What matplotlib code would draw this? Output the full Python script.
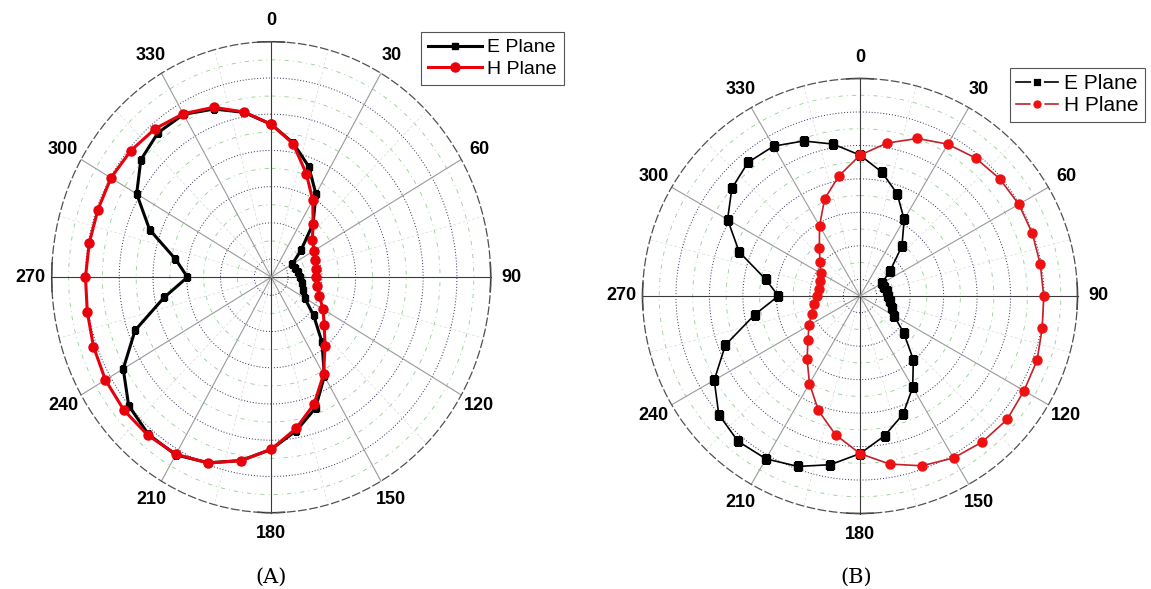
import numpy as np
import matplotlib.pyplot as plt
from matplotlib.lines import Line2D

plt.rcParams['font.family'] = ['Liberation Sans', 'DejaVu Sans']

W, H = 1151, 589

# measured every 10 degrees, radius in grid units (outer circle = 6.5)
angles = np.arange(0, 360, 10)

a_e_plane = [4.22, 3.76, 3.25, 2.65, 1.93, 1.15, 0.72, 0.76, 0.81, 0.86, 0.93, 1.01,
             1.14, 1.64, 2.34, 3.15, 3.84, 4.30, 4.75, 5.14, 5.45, 5.66, 5.66, 5.51,
             5.06, 4.29, 3.22, 2.48, 2.88, 3.83, 4.60, 5.04, 5.21, 5.19, 4.94, 4.62]
a_h_plane = [4.22, 3.74, 3.04, 2.46, 1.93, 1.59, 1.47, 1.39, 1.35, 1.34, 1.39, 1.52,
             1.77, 2.05, 2.48, 3.10, 3.72, 4.24, 4.75, 5.14, 5.46, 5.64, 5.69, 5.70,
             5.67, 5.60, 5.53, 5.50, 5.47, 5.46, 5.48, 5.43, 5.35, 5.21, 4.99, 4.63]

b_e_plane = [4.21, 3.76, 3.25, 2.64, 1.95, 1.18, 0.75, 0.77, 0.81, 0.85, 0.92, 1.01,
             1.17, 1.70, 2.48, 3.15, 3.76, 4.24, 4.71, 5.12, 5.42, 5.62, 5.67, 5.51,
             5.03, 4.28, 3.19, 2.44, 2.86, 3.84, 4.57, 5.00, 5.21, 5.17, 4.93, 4.61]
b_h_plane = [4.21, 4.64, 5.01, 5.24, 5.38, 5.45, 5.48, 5.48, 5.47, 5.49, 5.53, 5.63,
             5.66, 5.74, 5.69, 5.59, 5.40, 5.10, 4.71, 4.21, 3.64, 3.02, 2.46, 2.03,
             1.76, 1.54, 1.40, 1.30, 1.25, 1.27, 1.36, 1.56, 1.89, 2.42, 3.09, 3.64]

tick_angles = np.arange(0, 360, 30)
tick_labels = [str(a) for a in tick_angles]
major_rings = np.arange(0.5, 6.0, 1.0)
minor_rings = np.arange(1.0, 6.5, 1.0)
r_max = 6.5

fig = plt.figure(figsize=(W / 100, H / 100), dpi=100)


def closed(vals):
    th = np.deg2rad(np.append(angles, 360))
    return th, np.append(vals, vals[0])


def make_polar(left, top, width, height):
    ax = fig.add_axes([left / W, 1 - (top + height) / H, width / W, height / H],
                      projection='polar')
    ax.set_aspect('auto')
    ax.set_theta_zero_location('N')
    ax.set_theta_direction(-1)
    ax.set_ylim(0, r_max)
    ax.grid(False)

    full = np.linspace(0, 2 * np.pi, 721)
    for r in minor_rings:
        ax.plot(full, np.full_like(full, r), color='#93cc93', lw=0.6,
                ls=(0, (5, 5, 1, 5)), zorder=1)
    for r in major_rings:
        ax.plot(full, np.full_like(full, r), color='#2c2c58', lw=0.7,
                ls=(0, (1, 2)), zorder=1)
    for a in np.arange(15, 360, 30):
        ax.plot([np.deg2rad(a)] * 2, [0, r_max], color='#dadada', lw=0.5,
                ls=(0, (4, 3)), zorder=1)
    for a in tick_angles:
        c = '#3a3a3a' if a % 90 == 0 else '#9a9a9a'
        ax.plot([np.deg2rad(a)] * 2, [0, r_max], color=c, lw=0.8, zorder=1.5,
                clip_on=False)
    for a in range(0, 360, 90):
        arc = np.deg2rad(np.linspace(a - 3.5, a + 3.5, 15))
        ax.plot(arc, np.full_like(arc, r_max), color='#333333', lw=1.1,
                clip_on=False, zorder=2)

    ax.spines['polar'].set_linestyle((0, (6, 3)))
    ax.spines['polar'].set_color('#505050')
    ax.spines['polar'].set_linewidth(0.9)

    ax.set_xticks(np.deg2rad(tick_angles))
    ax.set_xticklabels(tick_labels, fontweight='bold', fontsize=13)
    ax.set_yticks([])
    ax.tick_params(axis='x', pad=8, length=0)
    return ax


# (A)
ax1 = make_polar(51.7, 41.7, 439, 471)
th, r = closed(a_e_plane)
l1, = ax1.plot(th, r, color='black', lw=2.2, marker='s', ms=5, zorder=3)
th, r = closed(a_h_plane)
l2, = ax1.plot(th, r, color='#e8000b', lw=2.2, marker='o', ms=6.5, zorder=4)
leg = ax1.legend([l1, l2], ['E Plane', 'H Plane'], loc='upper left',
                 bbox_to_anchor=(421 / W, 1 - 32 / H), bbox_transform=fig.transFigure,
                 borderaxespad=0, fancybox=False, edgecolor='#555555', framealpha=1,
                 fontsize=14, handlelength=2.8, handletextpad=0.25,
                 labelspacing=0.2, borderpad=0.35)
leg.get_frame().set_linewidth(0.8)
fig.text(271 / W, 1 - 577 / H, '(A)', ha='center', va='center',
         family='DejaVu Serif', fontsize=15)

# (B)
ax2 = make_polar(642.5, 78.5, 435, 435)
th, r = closed(b_e_plane)
ax2.plot(th, r, color='black', lw=1.2, marker='s', ms=5.5, zorder=3)
th, r = closed(b_h_plane)
ax2.plot(th, r, color='#c42028', lw=1.2, marker='o', ms=6.5,
         mfc='#ee1111', mec='#ee1111', zorder=4)
proxies = [Line2D([], [], color='black', lw=1.2, marker='s', ms=7,
                  mfc='black', mec='white', mew=2.0),
           Line2D([], [], color='#c42028', lw=1.2, marker='o', ms=8,
                  mfc='#ee1111', mec='white', mew=2.0)]
leg = ax2.legend(proxies, ['E Plane', 'H Plane'], loc='upper left',
                 bbox_to_anchor=(1010 / W, 1 - 68 / H), bbox_transform=fig.transFigure,
                 borderaxespad=0, fancybox=False, edgecolor='#555555', framealpha=1,
                 fontsize=15, handlelength=2.0, handletextpad=0.3,
                 labelspacing=0.15, borderpad=0.3)
leg.get_frame().set_linewidth(0.8)
fig.text(856 / W, 1 - 577 / H, '(B)', ha='center', va='center',
         family='DejaVu Serif', fontsize=15)

fig.savefig('out.png', dpi=100)
